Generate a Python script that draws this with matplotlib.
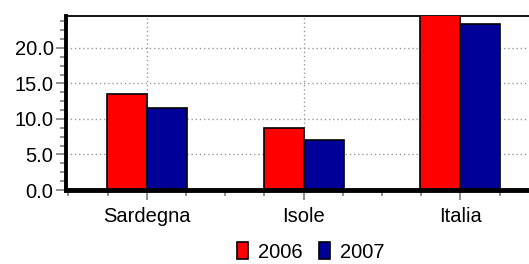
import matplotlib
matplotlib.use("Agg")
import matplotlib.pyplot as plt
import numpy as np
from matplotlib.ticker import MultipleLocator, FormatStrFormatter

plt.rcParams['font.family'] = ['Liberation Sans', 'DejaVu Sans']

categorie = ['Sardegna', 'Isole', 'Italia']
anni = ['2006', '2007']
valori_2006 = [13.5, 8.7, 24.6]
valori_2007 = [11.5, 7.0, 23.4]
colori = ['#ff0000', '#000099']

fig = plt.figure(figsize=(5.29, 2.64), dpi=100)
ax = fig.add_axes([66 / 529, 74 / 264, 1 - 66 / 529, 174 / 264])

x = np.arange(len(categorie))
w = 0.255
ax.bar(x - w / 2, valori_2006, w, color=colori[0], edgecolor='black', linewidth=1.2, label=anni[0], zorder=3)
ax.bar(x + w / 2, valori_2007, w, color=colori[1], edgecolor='black', linewidth=1.2, label=anni[1], zorder=3)

ax.set_xlim(-0.515, 2.438)
ax.set_ylim(0, 24.5)

ax.yaxis.set_major_locator(MultipleLocator(5))
ax.yaxis.set_minor_locator(MultipleLocator(1.25))
ax.yaxis.set_major_formatter(FormatStrFormatter('%.1f'))
ax.set_xticks(x)
ax.set_xticklabels(categorie)
ax.xaxis.set_minor_locator(MultipleLocator(0.25))

fs = 14.5
ax.tick_params(axis='both', which='major', length=7, width=1.3, color='#888888', labelsize=fs, pad=2)
ax.tick_params(axis='both', which='minor', length=4.5, width=1.3, color='#888888')
ax.tick_params(axis='x', which='major', pad=5)

ax.grid(True, which='major', linestyle=(0, (1, 2)), color='#999999', linewidth=1, zorder=0)

ax.spines['right'].set_visible(False)
ax.spines['left'].set_linewidth(2.8)
ax.spines['bottom'].set_linewidth(3.5)
ax.spines['top'].set_linewidth(1.3)
ax.spines['bottom'].set_zorder(4)

fig.legend(loc='center', bbox_to_anchor=(311 / 529, 0.045), ncol=2, frameon=False,
           fontsize=fs, handlelength=0.55, handleheight=0.9, handletextpad=0.5,
           columnspacing=0.8, borderpad=0)

fig.savefig('out.png', dpi=100)
